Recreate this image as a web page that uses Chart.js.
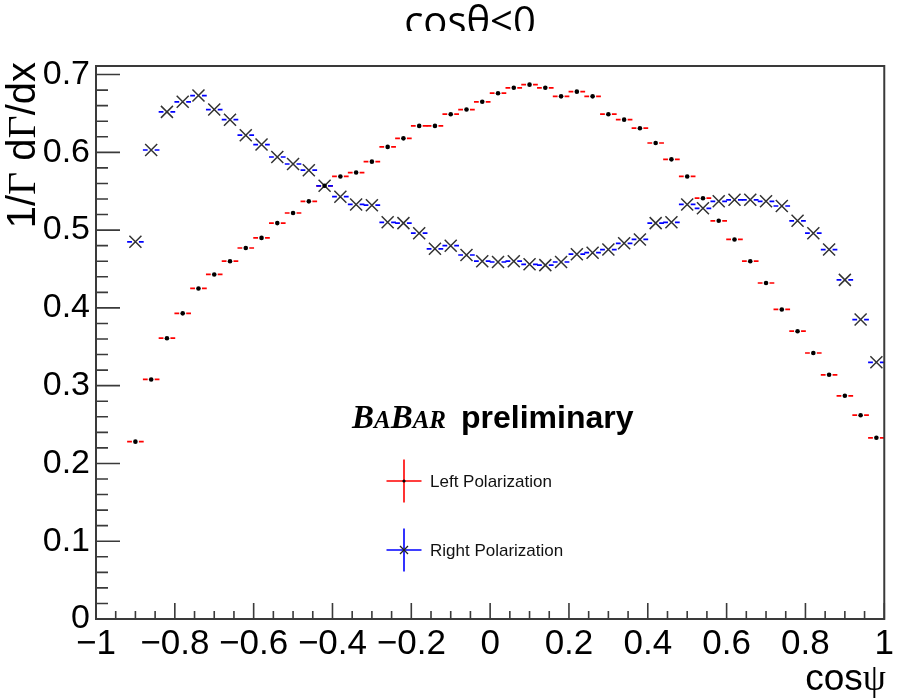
<!DOCTYPE html>
<html>
<head>
<meta charset="utf-8">
<script src="https://cdn.jsdelivr.net/npm/chart.js@4.4.0/dist/chart.umd.min.js"></script>
<style>
  html, body { margin: 0; padding: 0; background: #fff; }
  canvas { display: block; }
</style>
</head>
<body>
<canvas id="chart" width="898" height="700"></canvas>
<script>
// Bin centres (cos psi)
const binCenters = [
  -0.90, -0.86, -0.82, -0.78, -0.74, -0.70, -0.66, -0.62, -0.58, -0.54,
  -0.50, -0.46, -0.42, -0.38, -0.34, -0.30, -0.26, -0.22, -0.18, -0.14,
  -0.10, -0.06, -0.02, 0.02, 0.06, 0.10, 0.14, 0.18, 0.22, 0.26,
  0.30, 0.34, 0.38, 0.42, 0.46, 0.50, 0.54, 0.58, 0.62, 0.66,
  0.70, 0.74, 0.78, 0.82, 0.86, 0.90, 0.94, 0.98
];

// Left polarization (red error bars, black dots)
const leftPol = [
  0.228, 0.308, 0.361, 0.393, 0.425, 0.443, 0.460, 0.477, 0.490, 0.509,
  0.522, 0.537, 0.557, 0.569, 0.574, 0.588, 0.607, 0.618, 0.634, 0.634,
  0.649, 0.655, 0.665, 0.676, 0.683, 0.687, 0.683, 0.672, 0.678, 0.672,
  0.649, 0.642, 0.631, 0.612, 0.591, 0.569, 0.541, 0.512, 0.488, 0.460,
  0.432, 0.398, 0.370, 0.342, 0.314, 0.287, 0.262, 0.233
];

// Right polarization (blue error bars, x markers)
const rightPol = [
  0.485, 0.603, 0.652, 0.665, 0.673, 0.655, 0.642, 0.622, 0.610, 0.594,
  0.585, 0.577, 0.557, 0.543, 0.533, 0.532, 0.510, 0.509, 0.496, 0.476,
  0.480, 0.468, 0.460, 0.459, 0.460, 0.456, 0.455, 0.459, 0.469, 0.471,
  0.475, 0.483, 0.488, 0.509, 0.510, 0.533, 0.528, 0.537, 0.539, 0.539,
  0.537, 0.531, 0.512, 0.496, 0.475, 0.436, 0.385, 0.330
];

const binHalfWidth = 0.021;
const xMin = -1, xMax = 1, xMajor = 0.2, xMinor = 0.05;
const yMin = 0, yMax = 0.711, yMajor = 0.1, yMinor = 0.02;

const labelFont = "Liberation Sans, Arial, sans-serif";
const serifFont = "Liberation Serif, Times New Roman, serif";

function fmtTick(v) {
  const r = Math.round(v * 10) / 10;
  if (r === 0) return "0";
  return String(r).replace("-", "\u2212");
}

function toPoints(ys) {
  return binCenters.map((x, i) => ({ x: x, y: ys[i] }));
}

// error bars drawn under the markers, with a small gap round each marker
const errorBars = {
  id: "errorBars",
  beforeDatasetsDraw(chart) {
    const ctx = chart.ctx;
    const xs = chart.scales.x, ys = chart.scales.y;
    ctx.save();
    chart.data.datasets.forEach(ds => {
      ctx.strokeStyle = ds.barColor;
      ctx.lineWidth = 1.7;
      ds.data.forEach(p => {
        const cx = xs.getPixelForValue(p.x);
        const cy = ys.getPixelForValue(p.y);
        const x0 = xs.getPixelForValue(p.x - binHalfWidth);
        const x1 = xs.getPixelForValue(p.x + binHalfWidth);
        const gap = 3.5;
        ctx.beginPath();
        ctx.moveTo(x0, cy); ctx.lineTo(cx - gap, cy);
        ctx.moveTo(cx + gap, cy); ctx.lineTo(x1, cy);
        ctx.stroke();
      });
    });
    ctx.restore();
  }
};

// ROOT-like frame, inner ticks, titles, legend, BaBar label
const decorations = {
  id: "decorations",
  beforeDraw(chart) {
    const ctx = chart.ctx;
    ctx.save();
    ctx.fillStyle = "#fff";
    ctx.fillRect(0, 0, chart.width, chart.height);
    ctx.restore();
  },
  afterDraw(chart) {
    const ctx = chart.ctx;
    const a = chart.chartArea;
    const xs = chart.scales.x, ys = chart.scales.y;
    ctx.save();

    // frame
    ctx.strokeStyle = "#3a3a3a";
    ctx.lineWidth = 2;
    ctx.strokeRect(a.left, a.top, a.right - a.left, a.bottom - a.top);

    // ticks
    ctx.lineWidth = 1.6;
    ctx.beginPath();
    const nx = Math.round((xMax - xMin) / xMinor);
    for (let i = 0; i <= nx; i++) {
      const v = xMin + i * xMinor;
      const px = xs.getPixelForValue(v);
      const major = i % Math.round(xMajor / xMinor) === 0;
      ctx.moveTo(px, a.bottom);
      ctx.lineTo(px, a.bottom - (major ? 16 : 8));
    }
    const ny = Math.floor((yMax - yMin) / yMinor + 1e-6);
    for (let i = 0; i <= ny; i++) {
      const v = yMin + i * yMinor;
      const py = ys.getPixelForValue(v);
      const major = i % Math.round(yMajor / yMinor) === 0;
      ctx.moveTo(a.left, py);
      ctx.lineTo(a.left + (major ? 24 : 12), py);
    }
    ctx.stroke();

    // page title, clipped at the bottom
    ctx.save();
    ctx.beginPath();
    ctx.rect(0, 0, chart.width, 31);
    ctx.clip();
    ctx.fillStyle = "#000";
    ctx.font = "40px 'Open Sans', sans-serif";
    ctx.textAlign = "center";
    ctx.textBaseline = "alphabetic";
    ctx.fillText("cos\u03b8<0", 470, 35);
    ctx.restore();

    // y axis title (rotated, aligned to the top)
    const yParts = [
      ["1/", labelFont], ["\u0393", serifFont], [" d", labelFont],
      ["\u0393", serifFont], ["/dx", labelFont]
    ];
    const ySize = 40;
    ctx.fillStyle = "#000";
    ctx.textAlign = "left";
    ctx.textBaseline = "alphabetic";
    let total = 0;
    yParts.forEach(p => { ctx.font = ySize + "px " + p[1]; total += ctx.measureText(p[0]).width; });
    ctx.save();
    ctx.translate(35, 62 + total);
    ctx.rotate(-Math.PI / 2);
    let off = 0;
    yParts.forEach(p => {
      ctx.font = ySize + "px " + p[1];
      ctx.fillText(p[0], off, 0);
      off += ctx.measureText(p[0]).width;
    });
    ctx.restore();

    // x axis title (right aligned)
    ctx.font = "37px " + serifFont;
    const psiW = ctx.measureText("\u03c8").width;
    ctx.textAlign = "right";
    ctx.fillText("\u03c8", 886, 690);
    ctx.font = "37px " + labelFont;
    ctx.fillText("cos", 886 - psiW, 690);

    // BaBar preliminary
    ctx.textAlign = "left";
    let bx = 352;
    const babar = [["B", 33], ["A", 25], ["B", 33], ["AR", 25]];
    babar.forEach(p => {
      ctx.font = "italic bold " + p[1] + "px " + serifFont;
      ctx.fillText(p[0], bx, 428);
      bx += ctx.measureText(p[0]).width;
    });
    ctx.font = "bold 32px " + labelFont;
    ctx.fillText("preliminary", 461, 428);

    // legend
    chart.data.datasets.forEach((ds, i) => {
      const cx = 404, cy = 481 + i * 69;
      ctx.strokeStyle = ds.barColor;
      ctx.lineWidth = 1.6;
      ctx.beginPath();
      ctx.moveTo(cx - 17.5, cy); ctx.lineTo(cx + 17.5, cy);
      ctx.moveTo(cx, cy - 21.5); ctx.lineTo(cx, cy + 21.5);
      ctx.stroke();
      ctx.strokeStyle = "#222";
      ctx.fillStyle = "#000";
      if (ds.pointStyle === "crossRot") {
        ctx.lineWidth = 1.3;
        ctx.beginPath();
        ctx.moveTo(cx - 4, cy - 4); ctx.lineTo(cx + 4, cy + 4);
        ctx.moveTo(cx - 4, cy + 4); ctx.lineTo(cx + 4, cy - 4);
        ctx.stroke();
      } else {
        ctx.beginPath();
        ctx.arc(cx, cy, 1.6, 0, Math.PI * 2);
        ctx.fill();
      }
      ctx.fillStyle = "#111";
      ctx.font = "17px " + labelFont;
      ctx.textBaseline = "middle";
      ctx.fillText(ds.label, 430, cy + 1);
      ctx.textBaseline = "alphabetic";
    });

    ctx.restore();
  }
};

new Chart(document.getElementById("chart"), {
  type: "scatter",
  data: {
    datasets: [
      {
        label: "Left Polarization",
        data: toPoints(leftPol),
        barColor: "#ff0000",
        pointStyle: "circle",
        pointRadius: 2.3,
        pointBackgroundColor: "#000",
        pointBorderColor: "#000",
        pointBorderWidth: 0
      },
      {
        label: "Right Polarization",
        data: toPoints(rightPol),
        barColor: "#0000ff",
        pointStyle: "crossRot",
        pointRadius: 8.5,
        pointBorderColor: "#333",
        pointBorderWidth: 1.5
      }
    ]
  },
  options: {
    responsive: false,
    animation: false,
    devicePixelRatio: 1,
    layout: { padding: { left: 0, right: 11, top: 66, bottom: 0 } },
    plugins: { legend: { display: false }, tooltip: { enabled: false } },
    scales: {
      x: {
        type: "linear",
        min: xMin,
        max: xMax,
        grid: { display: false, drawTicks: false },
        border: { display: false },
        ticks: {
          stepSize: xMajor,
          autoSkip: false,
          maxRotation: 0,
          padding: 4,
          color: "#000",
          font: { family: labelFont, size: 35 },
          callback: v => fmtTick(v)
        },
        afterFit: s => { s.height = 81; }
      },
      y: {
        type: "linear",
        min: yMin,
        max: yMax,
        grid: { display: false, drawTicks: false },
        border: { display: false },
        ticks: {
          stepSize: yMajor,
          includeBounds: false,
          padding: 6,
          color: "#000",
          font: { family: labelFont, size: 34 },
          callback: v => fmtTick(v)
        },
        afterFit: s => { s.width = 96; }
      }
    }
  },
  plugins: [errorBars, decorations]
});
</script>
</body>
</html>
